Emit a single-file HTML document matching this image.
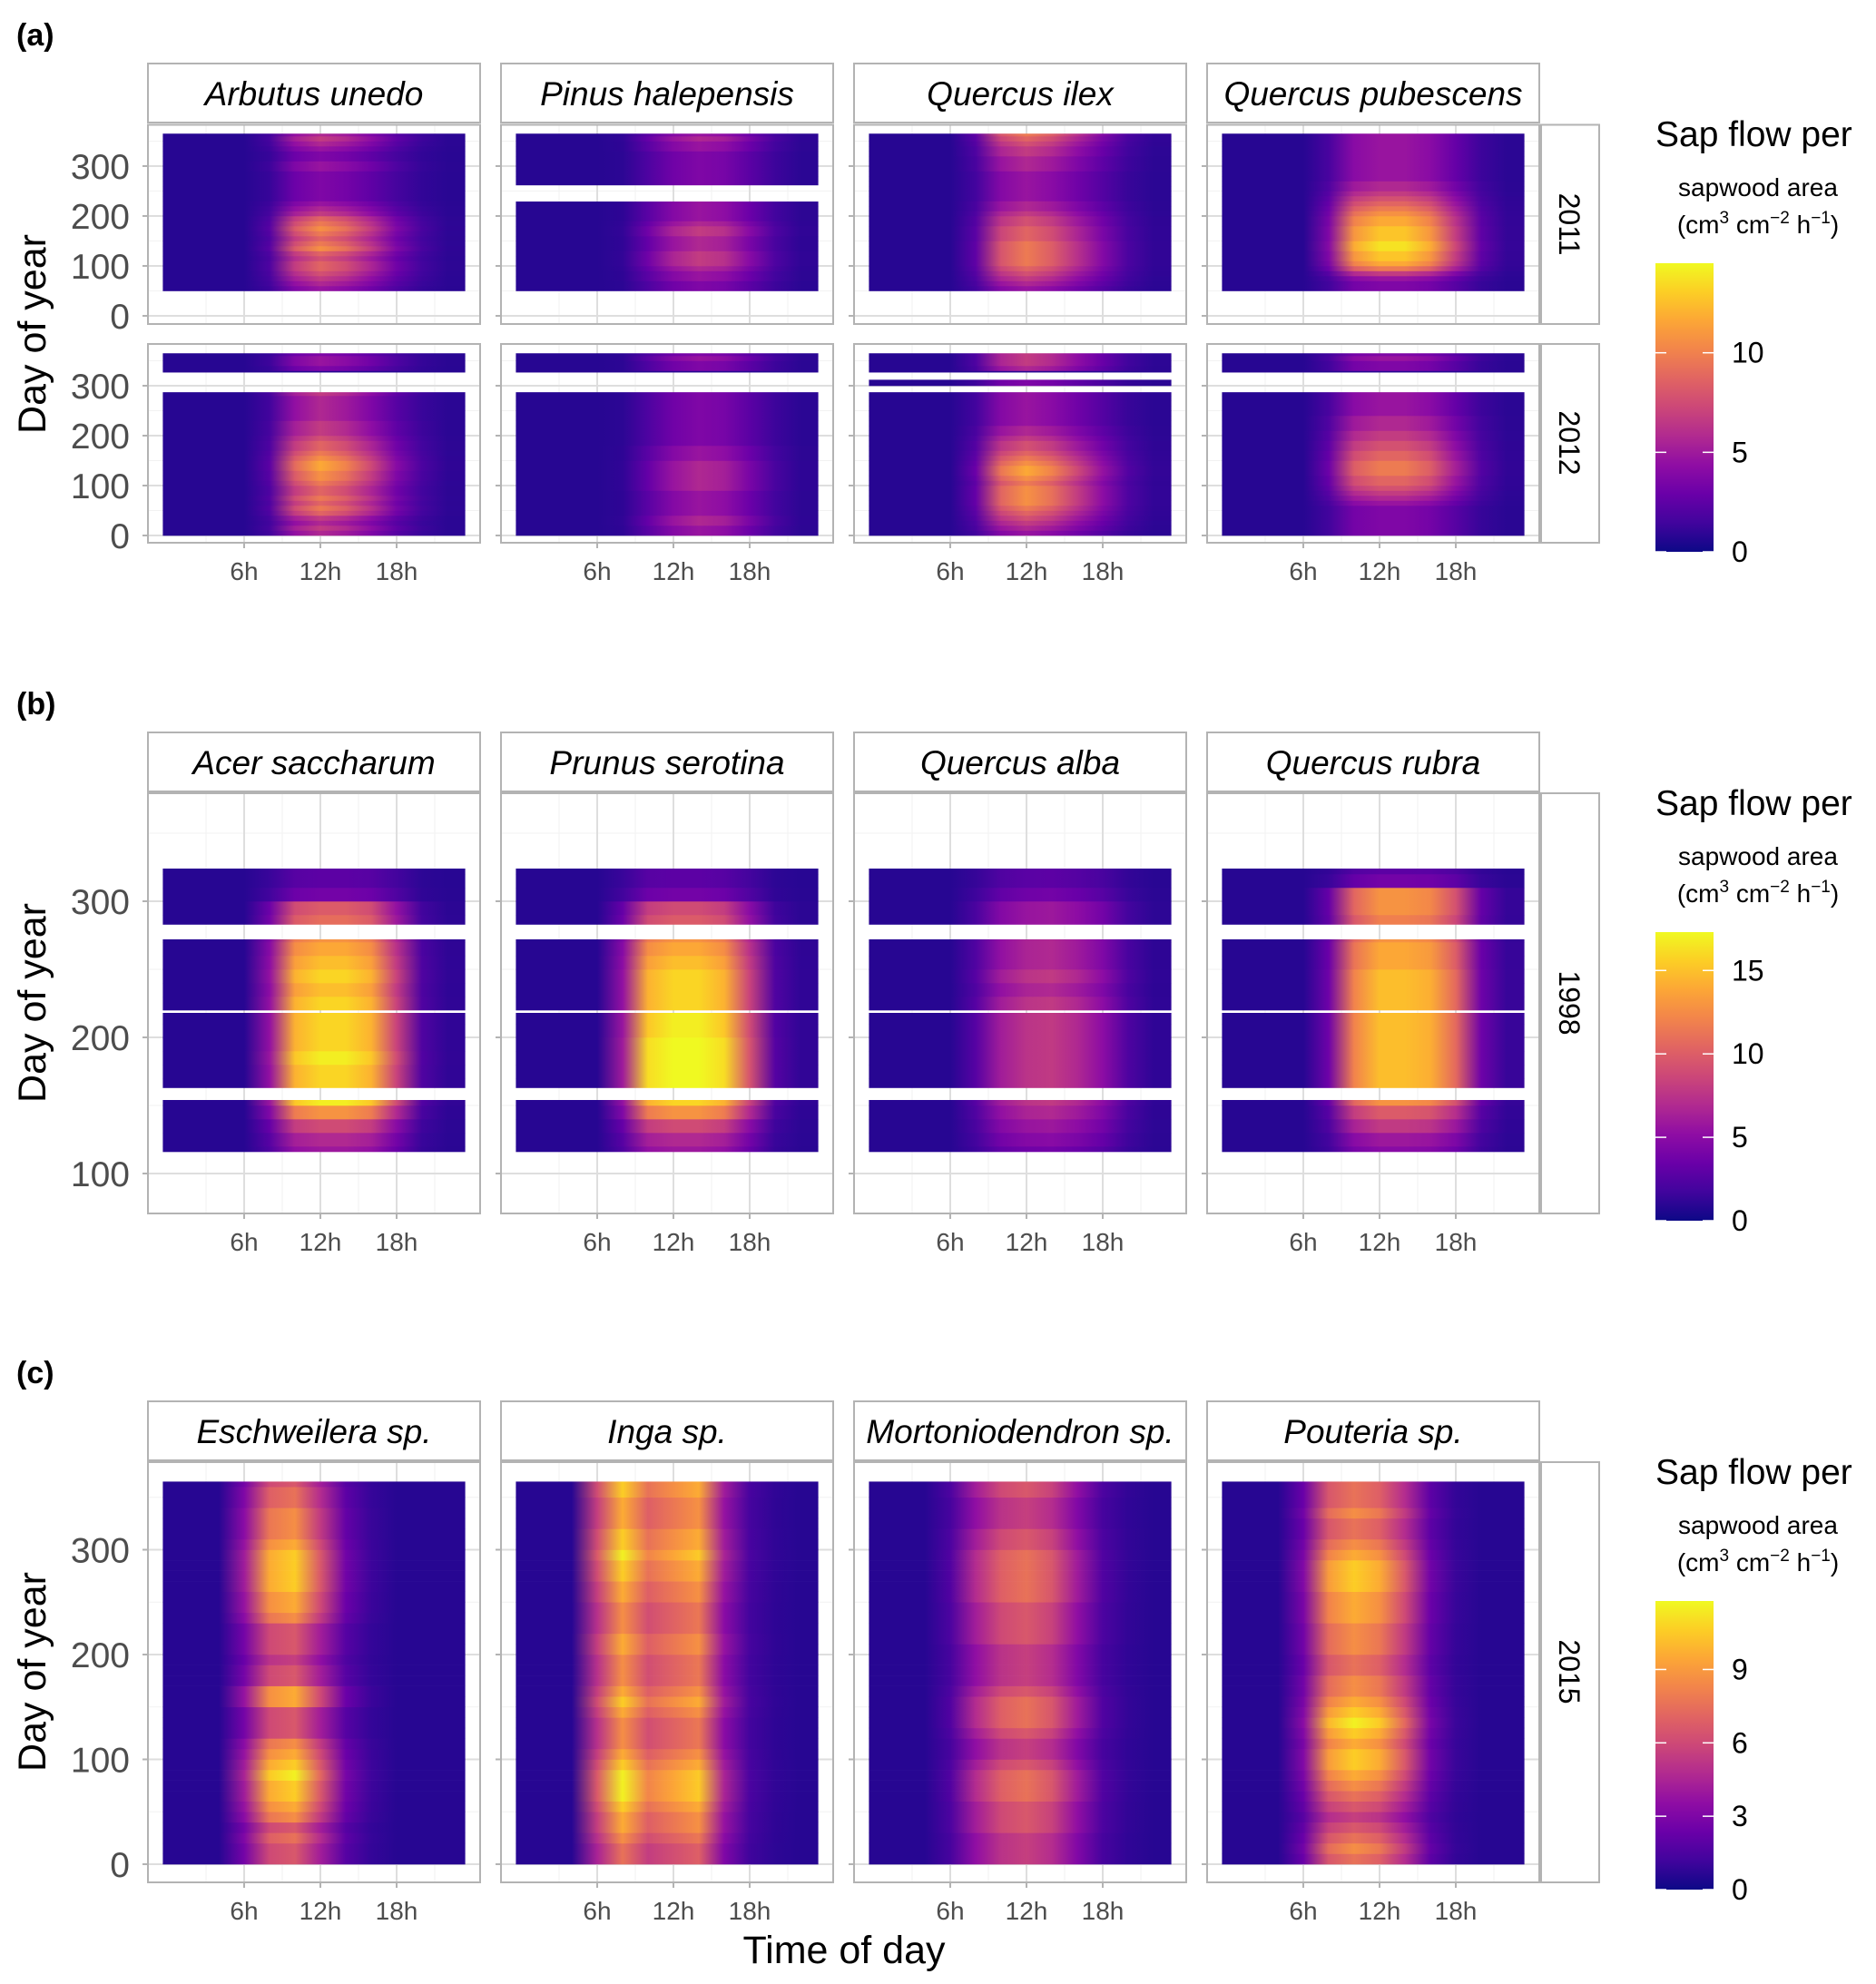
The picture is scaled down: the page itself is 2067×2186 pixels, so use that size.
<!DOCTYPE html>
<html><head><meta charset="utf-8"><style>
html,body{margin:0;padding:0;background:#fff;}
svg{display:block;font-family:"Liberation Sans",sans-serif;}
</style></head><body>
<svg id="fig" width="2067" height="2186" viewBox="0 0 2067 2186" xmlns="http://www.w3.org/2000/svg">
<defs id="defs"></defs>
<g id="panels"></g>
<g id="labels">
 <text x="18" y="50" font-size="34" font-weight="bold">(a)</text>
 <text x="18" y="787" font-size="34" font-weight="bold">(b)</text>
 <text x="18" y="1524" font-size="34" font-weight="bold">(c)</text>
 <text transform="translate(50,368) rotate(-90)" text-anchor="middle" font-size="43">Day of year</text>
 <text transform="translate(50,1105) rotate(-90)" text-anchor="middle" font-size="43">Day of year</text>
 <text transform="translate(50,1842) rotate(-90)" text-anchor="middle" font-size="43">Day of year</text>
 <text x="930" y="2163" text-anchor="middle" font-size="43">Time of day</text>
 <g font-style="italic" font-size="37" text-anchor="middle">
  <text x="346" y="116">Arbutus unedo</text>
  <text x="735" y="116">Pinus halepensis</text>
  <text x="1124" y="116">Quercus ilex</text>
  <text x="1513" y="116">Quercus pubescens</text>
  <text x="346" y="853">Acer saccharum</text>
  <text x="735" y="853">Prunus serotina</text>
  <text x="1124" y="853">Quercus alba</text>
  <text x="1513" y="853">Quercus rubra</text>
  <text x="346" y="1590">Eschweilera sp.</text>
  <text x="735" y="1590">Inga sp.</text>
  <text x="1124" y="1590">Mortoniodendron sp.</text>
  <text x="1513" y="1590">Pouteria sp.</text>
 </g>
 <g font-size="32">
  <text transform="translate(1718,247) rotate(90)" text-anchor="middle">2011</text>
  <text transform="translate(1718,488) rotate(90)" text-anchor="middle">2012</text>
  <text transform="translate(1718,1105) rotate(90)" text-anchor="middle">1998</text>
  <text transform="translate(1718,1842) rotate(90)" text-anchor="middle">2015</text>
 </g>
 <g id="legendTitles">
  <text x="1824" y="161" font-size="39">Sap flow per</text>
  <text x="1937" y="216" font-size="28" text-anchor="middle">sapwood area</text>
  <text x="1937" y="257" font-size="28" text-anchor="middle">(cm<tspan font-size="19" dy="-11">3</tspan><tspan dy="11"> cm</tspan><tspan font-size="19" dy="-11">−2</tspan><tspan dy="11"> h</tspan><tspan font-size="19" dy="-11">−1</tspan><tspan dy="11">)</tspan></text>
  <text x="1824" y="898" font-size="39">Sap flow per</text>
  <text x="1937" y="953" font-size="28" text-anchor="middle">sapwood area</text>
  <text x="1937" y="994" font-size="28" text-anchor="middle">(cm<tspan font-size="19" dy="-11">3</tspan><tspan dy="11"> cm</tspan><tspan font-size="19" dy="-11">−2</tspan><tspan dy="11"> h</tspan><tspan font-size="19" dy="-11">−1</tspan><tspan dy="11">)</tspan></text>
  <text x="1824" y="1635" font-size="39">Sap flow per</text>
  <text x="1937" y="1690" font-size="28" text-anchor="middle">sapwood area</text>
  <text x="1937" y="1731" font-size="28" text-anchor="middle">(cm<tspan font-size="19" dy="-11">3</tspan><tspan dy="11"> cm</tspan><tspan font-size="19" dy="-11">−2</tspan><tspan dy="11"> h</tspan><tspan font-size="19" dy="-11">−1</tspan><tspan dy="11">)</tspan></text>
 </g>
</g>
</svg>
<script>
// ---------- data ----------
const hourTicks=[6,12,18];
const hourTickLabels=['6h','12h','18h'];
const profileHours=[0,2,4,6,8,10,12,14,16,18,20,22];
const binStep=10;
const dayTicksA=[0,100,200,300];
const dayTicksB=[100,200,300];
const dayTicksC=[0,100,200,300];
const legendTicksA=[0,5,10];
const legendTicksB=[0,5,10,15];
const legendTicksC=[0,3,6,9];
const legendMaxA=14.5, legendMaxB=17.3, legendMaxC=11.8;

// diurnal relative profiles
const profArbutus=[0,0,0,0,0.15,0.75,1,0.85,0.6,0.3,0.1,0.02];
const profPinus=[0,0,0,0,0.05,0.4,0.8,1,0.9,0.55,0.2,0.04];
const profIlex=[0,0,0,0,0.2,0.8,1,0.85,0.6,0.35,0.12,0.03];
const profPubescens=[0,0,0,0,0.25,0.85,1,1,0.85,0.5,0.15,0.03];
const profAcer=[0,0,0,0,0.3,0.9,1,1,0.9,0.5,0.1,0.02];
const profPrunus=[0,0,0,0,0.3,0.9,1,1,0.9,0.5,0.1,0.02];
const profAlba=[0,0,0,0,0.25,0.75,0.95,1,0.85,0.6,0.2,0.04];
const profRubra=[0,0,0,0,0.2,0.8,1,1,0.95,0.7,0.2,0.04];
const profEsch=[0,0,0,0.35,0.9,1,0.6,0.2,0.05,0,0,0];
const profInga=[0,0,0,0.55,1,0.7,0.8,0.9,0.35,0.08,0.02,0];
const profMorton=[0,0,0,0.15,0.6,0.9,1,0.85,0.5,0.15,0.04,0];
const profPouteria=[0,0,0,0.25,0.85,1,0.9,0.6,0.2,0.04,0,0];

// peak sap flow per 10-day bin (bin i covers day 10i..10i+10)
const peakArbutus2011=[0,0,0,0,0,4,5,6,7,8,8,7,8,10,9,8,9,10,9,8,6,5,4,3,3,3,3,3,3,4,4,3,3,4,5,6,5];
const peakPinus2011=[0,0,0,0,0,3,3,4,4,5,6,6,6,5,5,5,6,6,5,4,4,4,4,0,0,0,3,3,3,3,3,3,3,4,4,5,4];
const peakIlex2011=[0,0,0,0,0,4,5,6,7,8,9,9,9,9,9,8,8,8,7,7,6,5,5,4,4,4,4,4,4,5,5,5,6,6,7,8,9];
const peakPubescens2011=[0,0,0,0,0,3,3,4,6,9,11,12,12,13,13,12,12,12,11,11,10,9,8,7,6,5,5,4,4,4,4,4,4,4,4,4,4];
const peakArbutus2012=[5,6,5,6,8,9,8,9,8,8,9,10,10,11,11,10,9,8,8,7,6,6,6,5,5,5,5,5,6,0,0,0,0,3,4,4,3];
const peakPinus2012=[4,4,5,5,4,4,4,4,4,5,5,5,5,5,5,4,4,4,3,3,3,3,3,3,3,3,3,3,3,0,0,0,0,3,3,4,3];
const peakIlex2012=[4,5,6,7,8,9,10,10,10,10,9,10,11,11,10,9,8,7,7,6,5,5,4,4,4,4,4,4,4,0,3,3,0,5,6,6,6];
const peakPubescens2012=[3,3,3,3,3,3,4,5,6,7,8,8,9,9,9,8,8,7,7,6,6,5,5,5,4,4,4,4,4,0,0,0,0,3,3,4,3];
const peakAcer=[0,0,0,0,0,0,0,0,0,0,0,5,6,8,12,16,15,15,16,15,15,15,15,14,15,14,13,12,10,9,3,2,2,0,0,0,0];
const peakPrunus=[0,0,0,0,0,0,0,0,0,0,0,5,6,8,12,15,17,17,17,17,16,16,15,15,15,14,13,12,9,8,3,2,2,0,0,0,0];
const peakAlba=[0,0,0,0,0,0,0,0,0,0,0,3,4,5,6,7,7,7,7,7,7,7,7,6,7,6,6,6,5,5,3,2,2,0,0,0,0];
const peakRubra=[0,0,0,0,0,0,0,0,0,0,0,4,5,7,9,12,14,14,14,14,14,14,14,14,14,13,13,12,11,12,12,3,2,0,0,0,0];
const peakEsch=[6,6,7,6,8,9,10,10,11,10,9,8,6,6,6,9,9,6,6,5,6,6,6,8,9,9,10,10,10,10,9,8,8,8,7,7,6];
const peakInga=[7,7,8,9,9,10,11,11,11,10,9,8,8,8,9,10,9,8,8,8,9,9,8,8,8,9,9,10,10,11,10,10,9,9,9,10,10];
const peakMorton=[5,5,5,6,6,6,7,7,7,6,5,5,6,7,7,7,6,5,5,5,5,6,6,6,6,7,7,7,7,7,6,6,5,5,5,6,6];
const peakPouteria=[7,8,7,6,5,6,7,8,9,10,10,9,10,11,10,9,8,8,7,7,8,8,8,9,9,9,10,10,10,9,8,7,7,8,7,7,7];

// day ranges with data
const segFull2011=[[50,365]];
const segPinus2011=[[50,229],[262,365]];
const seg2012=[[0,287],[327,365]];
const segIlex2012=[[0,287],[300,312],[327,365]];
const seg1998=[[116,154],[163,218],[220,272],[283,324]];
const seg2015=[[0,365]];

// ---------- layout ----------
const NS='http://www.w3.org/2000/svg';
const colLefts=[163,552,941,1330];
const panelW=366;
const gPanels=document.getElementById('panels');
const defs=document.getElementById('defs');
const plasmaStops=['#0d0887','#41049d','#6a00a8','#8f0da4','#b12a90','#cc4778','#e16462','#f2844b','#fca636','#fcce25','#f0f921'];
function hex(c){return [parseInt(c.slice(1,3),16),parseInt(c.slice(3,5),16),parseInt(c.slice(5,7),16)];}
function plasma(t){t=Math.max(0,Math.min(1,t));const p=t*10,i=Math.min(9,Math.floor(p)),f=p-i;const a=hex(plasmaStops[i]),b=hex(plasmaStops[i+1]);return 'rgb('+a.map((v,k)=>Math.round(v+(b[k]-v)*f)).join(',')+')';}
function mk(tag,attrs,parent){const e=document.createElementNS(NS,tag);for(const k in attrs)e.setAttribute(k,attrs[k]);(parent||gPanels).appendChild(e);return e;}
function xScale(h,left){return left+190+(h-12)*14;}
let gid=0;

const rowsA1={top:137.5,bottom:357,y0:348,k:0.55,ticks:dayTicksA,minor:[50,150,250,350]};
const rowsA2={top:379,bottom:598,y0:590,k:0.55,ticks:dayTicksA,minor:[50,150,250,350]};
const rowB={top:874,bottom:1337,y0:1443,k:1.5,ticks:dayTicksB,minor:[150,250,350]};
const rowC={top:1611,bottom:2074,y0:2054,k:1.155,ticks:dayTicksC,minor:[50,150,250,350]};

const panels=[
 {name:'arbutus-2011',col:0,row:rowsA1,peak:peakArbutus2011,prof:profArbutus,seg:segFull2011,max:legendMaxA,yl:true},
 {name:'pinus-2011',col:1,row:rowsA1,peak:peakPinus2011,prof:profPinus,seg:segPinus2011,max:legendMaxA},
 {name:'ilex-2011',col:2,row:rowsA1,peak:peakIlex2011,prof:profIlex,seg:segFull2011,max:legendMaxA},
 {name:'pubescens-2011',col:3,row:rowsA1,peak:peakPubescens2011,prof:profPubescens,seg:segFull2011,max:legendMaxA},
 {name:'arbutus-2012',col:0,row:rowsA2,peak:peakArbutus2012,prof:profArbutus,seg:seg2012,max:legendMaxA,yl:true,xl:true},
 {name:'pinus-2012',col:1,row:rowsA2,peak:peakPinus2012,prof:profPinus,seg:seg2012,max:legendMaxA,xl:true},
 {name:'ilex-2012',col:2,row:rowsA2,peak:peakIlex2012,prof:profIlex,seg:segIlex2012,max:legendMaxA,xl:true},
 {name:'pubescens-2012',col:3,row:rowsA2,peak:peakPubescens2012,prof:profPubescens,seg:seg2012,max:legendMaxA,xl:true},
 {name:'acer-1998',col:0,row:rowB,peak:peakAcer,prof:profAcer,seg:seg1998,max:legendMaxB,yl:true,xl:true},
 {name:'prunus-1998',col:1,row:rowB,peak:peakPrunus,prof:profPrunus,seg:seg1998,max:legendMaxB,xl:true},
 {name:'alba-1998',col:2,row:rowB,peak:peakAlba,prof:profAlba,seg:seg1998,max:legendMaxB,xl:true},
 {name:'rubra-1998',col:3,row:rowB,peak:peakRubra,prof:profRubra,seg:seg1998,max:legendMaxB,xl:true},
 {name:'eschweilera-2015',col:0,row:rowC,peak:peakEsch,prof:profEsch,seg:seg2015,max:legendMaxC,yl:true,xl:true},
 {name:'inga-2015',col:1,row:rowC,peak:peakInga,prof:profInga,seg:seg2015,max:legendMaxC,xl:true},
 {name:'mortoniodendron-2015',col:2,row:rowC,peak:peakMorton,prof:profMorton,seg:seg2015,max:legendMaxC,xl:true},
 {name:'pouteria-2015',col:3,row:rowC,peak:peakPouteria,prof:profPouteria,seg:seg2015,max:legendMaxC,xl:true}
];

// strips (column headers) and right facet strips
[[70,135],[807,872],[1544,1609]].forEach(function(s,si){
 colLefts.forEach(function(L,ci){
  const r=mk('rect',{x:L,y:s[0],width:panelW,height:s[1]-s[0],fill:'#fff',stroke:'#b3b3b3','stroke-width':2});
  
  
 });
});
[[137.5,357],[379,598],[874,1337],[1611,2074]].forEach(function(s){
 const r=mk('rect',{x:1698,y:s[0],width:64,height:s[1]-s[0],fill:'#fff',stroke:'#b3b3b3','stroke-width':2});
 
 
});

panels.forEach(function(p){
 const L=colLefts[p.col], R=p.row;
 const g=mk('g',{});
 
 
 mk('rect',{x:L,y:R.top,width:panelW,height:R.bottom-R.top,fill:'#fff'},g);
 const yS=d=>R.y0-d*R.k;
 R.minor.forEach(d=>{const y=yS(d);if(y>R.top&&y<R.bottom)mk('line',{x1:L,x2:L+panelW,y1:y,y2:y,stroke:'#f2f2f2','stroke-width':1},g);});
 [3,9,15,21].forEach(h=>{const x=xScale(h,L);mk('line',{x1:x,x2:x,y1:R.top,y2:R.bottom,stroke:'#f2f2f2','stroke-width':1},g);});
 R.ticks.forEach(d=>{const y=yS(d);const l=mk('line',{x1:L,x2:L+panelW,y1:y,y2:y,stroke:'#dedede','stroke-width':2},g);});
 hourTicks.forEach(h=>{const x=xScale(h,L);const l=mk('line',{x1:x,x2:x,y1:R.top,y2:R.bottom,stroke:'#dedede','stroke-width':2},g);});
 const base=0.05*p.max;
 const h0=-0.4,h1=23.4;
 p.peak.forEach(function(pk,i){
  const d0=i*binStep,d1=d0+binStep;
  const gr=document.createElementNS(NS,'linearGradient');
  const id='g'+(gid++);
  gr.setAttribute('id',id);gr.setAttribute('x1','0');gr.setAttribute('x2','1');gr.setAttribute('y1','0');gr.setAttribute('y2','0');
  p.prof.forEach(function(v,k){
   const st=document.createElementNS(NS,'stop');
   st.setAttribute('offset',((profileHours[k]-h0)/(h1-h0)).toFixed(4));
   st.setAttribute('stop-color',plasma((base+pk*v)/p.max));
   gr.appendChild(st);
  });
  defs.appendChild(gr);
  p.seg.forEach(function(s){
   const lo=Math.max(d0,s[0]),hi=Math.min(d1,s[1]);
   if(hi>lo){
    const r=mk('rect',{x:xScale(h0,L),y:yS(hi),width:xScale(h1,L)-xScale(h0,L),height:(hi-lo)*R.k+0.3,fill:'url(#'+id+')'},g);
    
    
   }
  });
 });
 mk('rect',{x:L,y:R.top,width:panelW,height:R.bottom-R.top,fill:'none',stroke:'#b3b3b3','stroke-width':2},g);
 R.ticks.forEach(d=>{const y=yS(d);mk('line',{x1:L-6,x2:L,y1:y,y2:y,stroke:'#b3b3b3','stroke-width':2},g);});
 if(p.yl){R.ticks.forEach(function(d){const y=yS(d);const t=mk('text',{x:L-20,y:y+14,'text-anchor':'end','font-size':39,fill:'#4d4d4d'},g);t.textContent=String(d);});}
 if(p.xl){hourTicks.forEach(function(h,k){const x=xScale(h,L);mk('line',{x1:x,x2:x,y1:R.bottom,y2:R.bottom+6,stroke:'#b3b3b3','stroke-width':2},g);const t=mk('text',{x:x,y:R.bottom+41,'text-anchor':'middle','font-size':28,fill:'#4d4d4d'},g);t.textContent=hourTickLabels[k];});}
});

// colorbars
[[0,legendMaxA,legendTicksA],[737,legendMaxB,legendTicksB],[1474,legendMaxC,legendTicksC]].forEach(function(c,ci){
 const off=c[0],max=c[1],ticks=c[2];
 const top=290+off,bot=608+off;
 const gr=document.createElementNS(NS,'linearGradient');
 gr.setAttribute('id','cb'+ci);gr.setAttribute('x1','0');gr.setAttribute('x2','0');gr.setAttribute('y1','1');gr.setAttribute('y2','0');
 for(let i=0;i<=10;i++){const st=document.createElementNS(NS,'stop');st.setAttribute('offset',i/10);st.setAttribute('stop-color',plasma(i/10));gr.appendChild(st);}
 defs.appendChild(gr);
 const g=mk('g',{});
 
 
 mk('rect',{x:1824,y:top,width:64,height:bot-top,fill:'url(#cb'+ci+')'},g);
 ticks.forEach(function(v){
  const y=bot-(v/max)*(bot-top);
  mk('line',{x1:1824,x2:1836,y1:y,y2:y,stroke:'#fff','stroke-width':1.5},g);
  mk('line',{x1:1876,x2:1888,y1:y,y2:y,stroke:'#fff','stroke-width':1.5},g);
  const t=mk('text',{x:1908,y:y+11,'font-size':32,fill:'#000'},g);
  t.textContent=String(v);
  
  
 });
});
</script>
</body></html>
